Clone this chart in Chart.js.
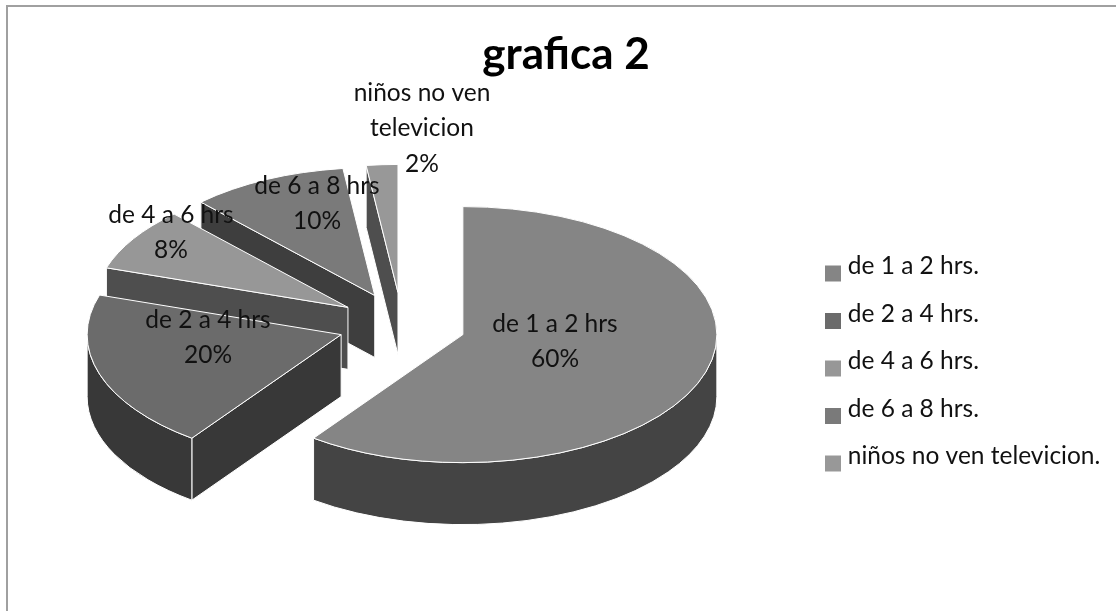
<!DOCTYPE html>
<html><head><meta charset="utf-8">
<style>html,body{margin:0;padding:0;background:#fff}#w{position:relative;width:1116px;height:611px}</style>
<script src="https://cdn.jsdelivr.net/npm/chart.js@4"></script>
</head><body><div id="w"><canvas id="c" width="1116" height="611"></canvas></div>
<script>
const legendLabels = ["de 1 a 2 hrs.","de 2 a 4 hrs.","de 4 a 6 hrs.","de 6 a 8 hrs.","niños no ven televicion."];
const sliceLabels = [["de 1 a 2 hrs"],["de 2 a 4 hrs"],["de 4 a 6 hrs"],["de 6 a 8 hrs"],["niños no ven","televicion"]];
const values = [60,20,8,10,2];
const topColors = ["#858585","#6b6b6b","#979797","#7a7a7a","#989898"];
const wallColors = ["#444444","#383838","#4e4e4e","#3e3e3e","#4e4e4e"];
// text anchors of the data labels (first line centre)
const labelX = [555,208,171,317,422];
const labelY = [324,320,215,186,93];
const LINE = 35.5, SQUASH = 0.504, DEPTH = 62, EXPLODE = 64;
const FONT = "Lato";

function swatch(color){
  const s=document.createElement('canvas');s.width=16;s.height=40;
  const x=s.getContext('2d');x.fillStyle=color;x.fillRect(0,19,16,16);return s;
}
const pie3d={
  id:'pie3d',
  beforeDraw(chart){
    const c=chart.ctx;c.save();c.strokeStyle='#a0a0a0';c.lineWidth=2;
    c.beginPath();c.moveTo(1116,6);c.lineTo(7,6);c.lineTo(7,611);c.stroke();c.restore();
  },
  afterLayout(chart){
    const t=chart.titleBlock;t.left+=164;t.right+=164;
    const l=chart.legend,p=l.options.labels.padding;
    l.left=830.5-p;l.right=1116;l.top=254.25-p;l.bottom=611;
  },
  beforeDatasetDraw(chart){
    const ctx=chart.ctx,arcs=chart.getDatasetMeta(0).data;
    const order=arcs.map((_,i)=>i).reverse();
    ctx.save();ctx.lineJoin='round';
    for(const i of order){
      const a=arcs[i],R=a.outerRadius,s=a.startAngle,e=a.endAngle,m=(s+e)/2;
      const ax=a.x+EXPLODE*Math.cos(m),ay=a.y+EXPLODE*SQUASH*Math.sin(m);
      const P=t=>[ax+R*Math.cos(t),ay+R*SQUASH*Math.sin(t)];
      ctx.strokeStyle='#fff';ctx.lineWidth=1;ctx.fillStyle=wallColors[i];
      const face=t=>{const p=P(t);ctx.beginPath();ctx.moveTo(ax,ay);ctx.lineTo(p[0],p[1]);ctx.lineTo(p[0],p[1]+DEPTH);ctx.lineTo(ax,ay+DEPTH);ctx.closePath();ctx.fill();ctx.stroke();};
      if(Math.cos(s)<0)face(s);
      if(Math.cos(e)>0)face(e);
      const w0=Math.max(s,0),w1=Math.min(e,Math.PI);
      if(w1>w0){
        ctx.beginPath();
        ctx.ellipse(ax,ay,R,R*SQUASH,0,w0,w1);
        ctx.ellipse(ax,ay+DEPTH,R,R*SQUASH,0,w1,w0,true);
        ctx.closePath();ctx.fill();ctx.stroke();
      }
      ctx.fillStyle=topColors[i];
      ctx.beginPath();ctx.moveTo(ax,ay);ctx.ellipse(ax,ay,R,R*SQUASH,0,s,e);ctx.closePath();ctx.fill();ctx.stroke();
    }
    ctx.restore();
    return false;
  },
  afterDatasetsDraw(chart){
    const ctx=chart.ctx,total=values.reduce((p,q)=>p+q,0);
    ctx.save();ctx.font='24.5px '+FONT;ctx.fillStyle='#111';ctx.textAlign='center';ctx.textBaseline='middle';
    values.forEach((v,i)=>{
      const lines=[...sliceLabels[i],Math.round(v/total*100)+'%'];
      lines.forEach((t,j)=>ctx.fillText(t,labelX[i],labelY[i]+j*LINE));
    });
    ctx.restore();
  }
};
new Chart(document.getElementById('c'),{
  type:'pie',
  plugins:[pie3d],
  data:{labels:legendLabels,datasets:[{data:values,backgroundColor:topColors,borderWidth:0}]},
  options:{
    responsive:false,animation:false,radius:254,
    layout:{padding:{left:0,right:312,top:0,bottom:52}},
    plugins:{
      tooltip:{enabled:false},
      title:{display:true,text:'grafica 2',color:'#000',font:{family:FONT,size:44,weight:'bold'},padding:{top:28.5,bottom:9}},
      legend:{position:'chartArea',align:'start',
        labels:{usePointStyle:true,pointStyleWidth:5,padding:23,color:'#111',font:{family:FONT,size:24.5},
          generateLabels(){return legendLabels.map((t,i)=>({text:t,index:i,pointStyle:swatch(topColors[i]),fillStyle:topColors[i],lineWidth:0,fontColor:'#111'}));}
        }
      }
    }
  }
});
</script></body></html>
